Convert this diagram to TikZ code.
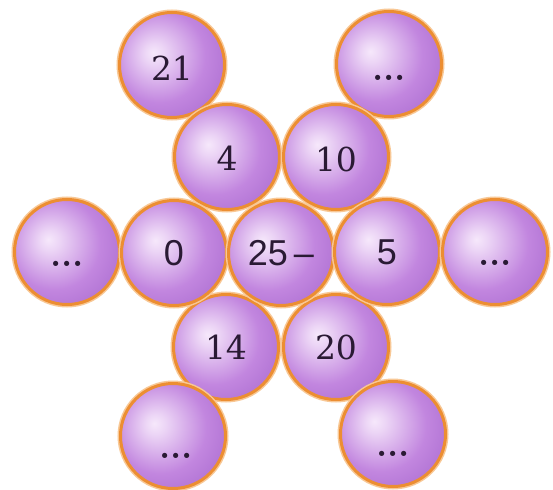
\documentclass[tikz,border=0pt]{standalone}
\usepackage{fontspec}
\definecolor{ballhi}{RGB}{246,232,251}
\definecolor{ballmid}{RGB}{194,134,223}
\definecolor{balledge}{RGB}{156,92,198}
\definecolor{ringcol}{RGB}{236,142,50}
\definecolor{ringhalo}{RGB}{248,200,150}
\definecolor{numcol}{RGB}{42,26,52}
\pgfdeclareradialshading{ballshade}{\pgfpoint{-9bp}{6bp}}{%
  color(0bp)=(ballhi); color(5bp)=(ballhi!80!ballmid); color(22bp)=(ballmid);
  color(46bp)=(balledge); color(70bp)=(balledge)}
\tikzset{
  ball/.style={circle, minimum size=105pt, inner sep=0pt, shading=ballshade,
    draw=ringcol, line width=3pt,
    preaction={draw=ringhalo, line width=6pt}},
  serifnum/.style={text=numcol, font=\fontspec{DejaVu Serif}\fontsize{33}{38}\selectfont, inner sep=0pt},
  sansnumber/.style={text=numcol, font=\fontspec{Liberation Sans}\fontsize{36}{40}\selectfont, inner sep=0pt},
  dotstext/.style={text=numcol, font=\bfseries\fontsize{36}{40}\selectfont, inner sep=0pt, anchor=base}
}
\newcommand{\balldots}{...}
\begin{document}
\begin{tikzpicture}[x=1pt,y=-1pt]
\useasboundingbox[fill=white] (0,0) rectangle (553,489);
% row 1
\node[ball] (b21) at (172,65) {};
\node[ball] (btr) at (389,64) {};
% row 2
\node[ball] (b4) at (227,157) {};
\node[ball] (b10) at (336,157) {};
% row 4
\node[ball] (b14) at (226,347) {};
\node[ball] (b20) at (336,347) {};
% row 5
\node[ball] (bbl) at (173,436) {};
\node[ball] (bbr) at (393,434) {};
% row 3
\node[ball] (bl) at (67,252) {};
\node[ball] (b0) at (174,253) {};
\node[ball] (bc) at (281,253) {};
\node[ball] (b5) at (387,252) {};
\node[ball] (br) at (495,252) {};
% texts
\node[serifnum] (t21) at ([yshift=-3pt]b21.center) {21};
\node[serifnum] (t4) at ([yshift=-1pt]b4.center) {4};
\node[serifnum] (t10) at ([yshift=-2pt]b10.center) {10};
\node[serifnum] (t14) at ([yshift=0pt]b14.center) {14};
\node[serifnum] (t20) at ([yshift=0pt]b20.center) {20};
\node[sansnumber] (t0) at ([yshift=0pt]b0.center) {0};
\node[sansnumber] (tc) at ([yshift=0pt]bc.center) {25\,–};
\node[sansnumber] (t5) at ([yshift=0pt]b5.center) {5};
\node[dotstext] (dtr) at ([yshift=-17pt]btr.center) {\balldots};
\node[dotstext] (dl) at ([yshift=-14pt]bl.center) {\balldots};
\node[dotstext] (dr) at ([yshift=-13pt]br.center) {\balldots};
\node[dotstext] (dbl) at ([xshift=3pt,yshift=-22pt]bbl.center) {\balldots};
\node[dotstext] (dbr) at ([yshift=-22pt]bbr.center) {\balldots};
\end{tikzpicture}
\end{document}
